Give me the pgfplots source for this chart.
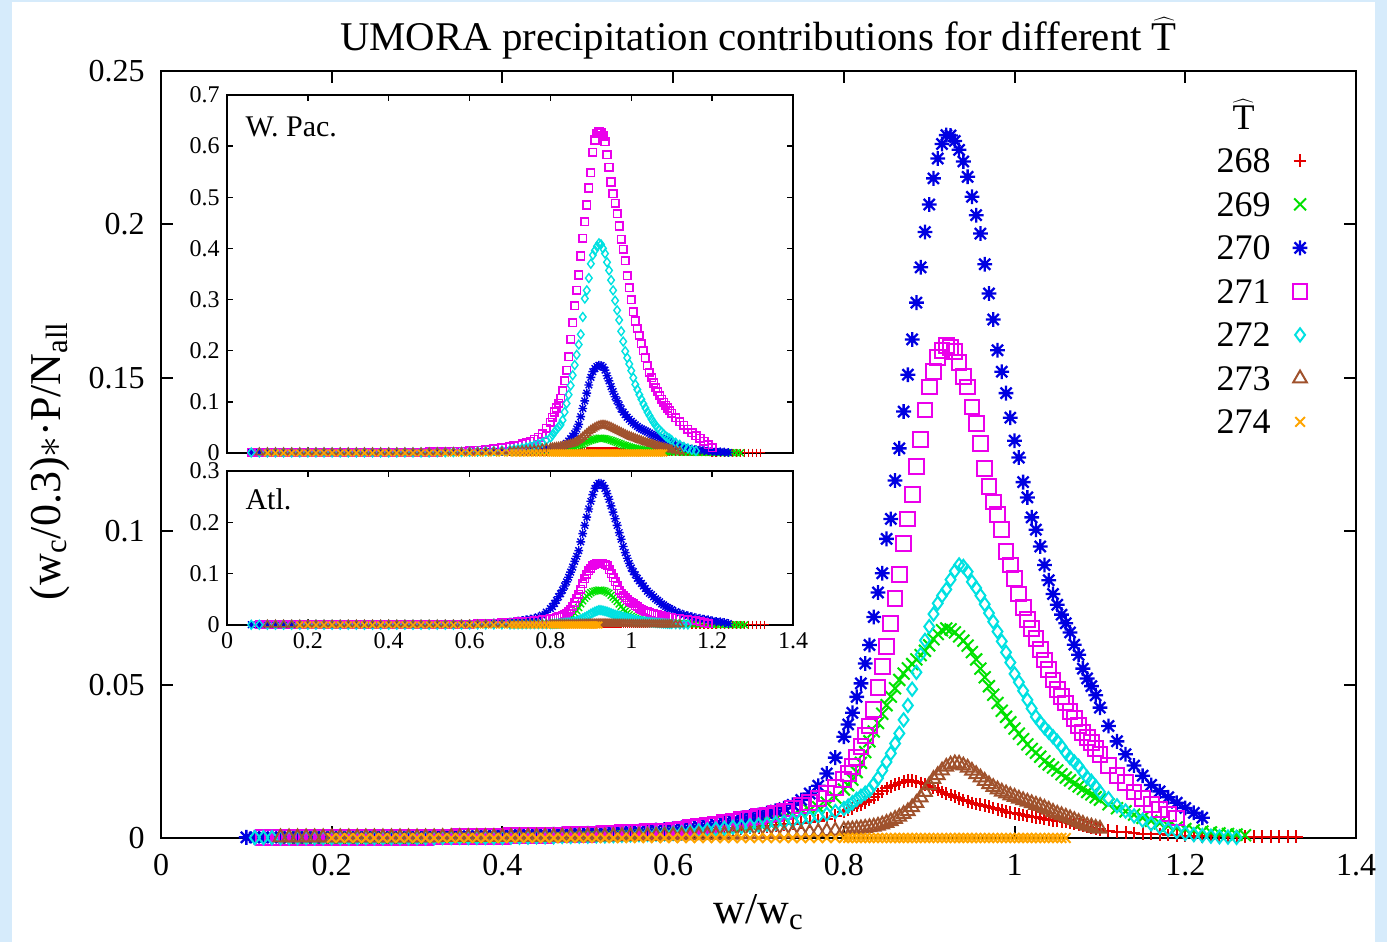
\documentclass[border=0pt]{standalone}
\usepackage{fontspec}
\setmainfont{Liberation Serif}
\usepackage{pgfplots}
\usepackage{pgfplotstable}
\pgfplotsset{compat=1.18}
\definecolor{c268}{RGB}{228,0,0}
\definecolor{c269}{RGB}{0,225,0}
\definecolor{c270}{RGB}{0,0,225}
\definecolor{c271}{RGB}{235,0,235}
\definecolor{c272}{RGB}{0,225,225}
\definecolor{c273}{RGB}{160,82,45}
\definecolor{c274}{RGB}{255,165,0}
\definecolor{bgblue}{RGB}{214,235,251}
\pgfdeclareplotmark{gpstar}{%
  \pgfpathmoveto{\pgfqpoint{-\pgfplotmarksize}{0pt}}\pgfpathlineto{\pgfqpoint{\pgfplotmarksize}{0pt}}%
  \pgfpathmoveto{\pgfqpoint{0pt}{-\pgfplotmarksize}}\pgfpathlineto{\pgfqpoint{0pt}{\pgfplotmarksize}}%
  \pgfpathmoveto{\pgfqpoint{-.75\pgfplotmarksize}{-.75\pgfplotmarksize}}\pgfpathlineto{\pgfqpoint{.75\pgfplotmarksize}{.75\pgfplotmarksize}}%
  \pgfpathmoveto{\pgfqpoint{-.75\pgfplotmarksize}{.75\pgfplotmarksize}}\pgfpathlineto{\pgfqpoint{.75\pgfplotmarksize}{-.75\pgfplotmarksize}}%
  \pgfusepathqstroke}
\pgfplotsset{
  gp/.style={only marks, legend image code/.code={\draw[##1] plot coordinates {(0pt,0pt)};}},
}
% columns: x, T=268 (r), 269 (g), 270 (b), 271 (m), 272 (c), 273 (br), 274 (o)
\pgfplotstableread{
x r g b m c br o
0.10 nan nan 0.0002 nan nan nan nan
0.11 nan nan 0.0002 nan 0.0001 nan nan
0.12 nan nan 0.0002 0.0002 0.0001 nan nan
0.13 nan nan 0.0002 0.0002 0.0001 nan nan
0.14 nan nan 0.0002 0.0002 0.0001 0.0002 nan
0.15 nan 0.0001 0.0002 0.0002 0.0001 0.0002 nan
0.16 nan 0.0001 0.0002 0.0002 0.0001 0.0002 nan
0.17 nan 0.0001 0.0002 0.0002 0.0001 0.0002 nan
0.18 nan 0.0001 0.0002 0.0002 0.0001 0.0002 nan
0.19 nan 0.0001 0.0002 0.0002 0.0001 0.0002 nan
0.20 0.0002 0.0001 0.0002 0.0002 0.0001 0.0002 0
0.21 0.0002 0.0001 0.0002 0.0002 0.0001 0.0002 0
0.22 0.0002 0.0001 0.0002 0.0002 0.0001 0.0002 0
0.23 0.0002 0.0001 0.0002 0.0002 0.0001 0.0002 0
0.24 0.0002 0.0001 0.0002 0.0002 0.0001 0.0002 0
0.25 0.0002 0.0001 0.0002 0.0002 0.0001 0.0002 0
0.26 0.0002 0.0001 0.0002 0.0002 0.0001 0.0002 0
0.27 0.0002 0.0001 0.0002 0.0002 0.0001 0.0002 0
0.28 0.0002 0.0001 0.0002 0.0002 0.0001 0.0002 0
0.29 0.0002 0.0001 0.0002 0.0002 0.0001 0.0002 0
0.30 0.0002 0.0001 0.0003 0.0002 0.0001 0.0002 0
0.31 0.0002 0.0001 0.0003 0.0002 0.0001 0.0002 0
0.32 0.0002 0.0001 0.0003 0.0003 0.0001 0.0002 0
0.33 0.0003 0.0002 0.0004 0.0003 0.0002 0.0003 0
0.34 0.0003 0.0002 0.0004 0.0003 0.0002 0.0003 0
0.35 0.0003 0.0002 0.0005 0.0004 0.0002 0.0003 0
0.36 0.0003 0.0002 0.0005 0.0004 0.0002 0.0003 0
0.37 0.0003 0.0002 0.0006 0.0005 0.0002 0.0003 0
0.38 0.0003 0.0003 0.0007 0.0005 0.0002 0.0003 0
0.39 0.0003 0.0003 0.0007 0.0006 0.0002 0.0003 0
0.40 0.0003 0.0003 0.0008 0.0006 0.0002 0.0003 0
0.41 0.0003 0.0003 0.0009 0.0007 0.0003 0.0003 0
0.42 0.0004 0.0003 0.0009 0.0007 0.0003 0.0004 0
0.43 0.0004 0.0004 0.0010 0.0008 0.0003 0.0004 0
0.44 0.0004 0.0004 0.0010 0.0008 0.0004 0.0004 0
0.45 0.0004 0.0004 0.0011 0.0009 0.0004 0.0004 0
0.46 0.0005 0.0004 0.0012 0.0010 0.0004 0.0004 0
0.47 0.0005 0.0004 0.0013 0.0010 0.0005 0.0004 0
0.48 0.0005 0.0005 0.0013 0.0011 0.0005 0.0005 0
0.49 0.0006 0.0005 0.0014 0.0011 0.0006 0.0005 0
0.50 0.0006 0.0005 0.0015 0.0012 0.0006 0.0005 0
0.51 0.0007 0.0006 0.0016 0.0013 0.0007 0.0005 0
0.52 0.0007 0.0007 0.0017 0.0014 0.0007 0.0005 0
0.53 0.0008 0.0007 0.0018 0.0015 0.0008 0.0006 0
0.54 0.0009 0.0008 0.0019 0.0017 0.0009 0.0006 0
0.55 0.0010 0.0009 0.0020 0.0018 0.0010 0.0006 0
0.56 0.0011 0.0010 0.0022 0.0019 0.0011 0.0007 0
0.57 0.0012 0.0011 0.0024 0.0020 0.0012 0.0007 0
0.58 0.0013 0.0012 0.0026 0.0022 0.0013 0.0007 0
0.59 0.0014 0.0013 0.0028 0.0023 0.0014 0.0008 0
0.60 0.0015 0.0015 0.0030 0.0025 0.0015 0.0008 0
0.61 0.0017 0.0018 0.0033 0.0029 0.0017 0.0008 0
0.62 0.0019 0.0021 0.0036 0.0033 0.0020 0.0009 0
0.63 0.0021 0.0024 0.0039 0.0037 0.0023 0.0009 0
0.64 0.0023 0.0027 0.0042 0.0041 0.0026 0.0010 0
0.65 0.0025 0.0030 0.0045 0.0045 0.0029 0.0010 0
0.66 0.0027 0.0034 0.0050 0.0050 0.0032 0.0011 0
0.67 0.0029 0.0038 0.0057 0.0055 0.0035 0.0011 0
0.68 0.0031 0.0042 0.0065 0.0060 0.0037 0.0012 0
0.69 0.0033 0.0046 0.0070 0.0065 0.0040 0.0012 0
0.70 0.0035 0.0050 0.0075 0.0070 0.0042 0.0013 0
0.71 0.0038 0.0055 0.0081 0.0075 0.0045 0.0014 0
0.72 0.0041 0.0060 0.0089 0.0080 0.0048 0.0014 0
0.73 0.0044 0.0066 0.0097 0.0087 0.0052 0.0015 0
0.74 0.0047 0.0072 0.0108 0.0095 0.0056 0.0016 0
0.75 0.0050 0.0080 0.0124 0.0105 0.0061 0.0017 0
0.76 0.0053 0.0090 0.0145 0.0116 0.0066 0.0018 0
0.77 0.0057 0.0100 0.0170 0.0128 0.0071 0.0020 0
0.78 0.0063 0.0115 0.0210 0.0145 0.0078 0.0022 0
0.79 0.0073 0.0132 0.0262 0.0165 0.0086 0.0024 0
0.80 0.0085 0.0158 0.0330 0.0190 0.0096 0.0026 0
0.805 0.0091 0.0172 0.0370 0.0210 0.0104 0.0027 0
0.81 0.0097 0.0190 0.0408 0.0232 0.0115 0.0028 0
0.815 0.0104 0.0215 0.0460 0.0262 0.0126 0.0030 0
0.82 0.0110 0.0245 0.0504 0.0297 0.0136 0.0031 0
0.825 0.0117 0.0280 0.0569 0.0335 0.0146 0.0033 0
0.83 0.0124 0.0315 0.0629 0.0365 0.0156 0.0035 0
0.835 0.0133 0.0347 0.0720 0.0420 0.0175 0.0037 0
0.84 0.0142 0.0375 0.0800 0.0490 0.0195 0.0040 0
0.845 0.0152 0.0405 0.0863 0.0560 0.0220 0.0044 0
0.85 0.0162 0.0433 0.0975 0.0625 0.0248 0.0049 0
0.855 0.0169 0.0461 0.1040 0.0700 0.0276 0.0055 0
0.86 0.0174 0.0488 0.1165 0.0780 0.0308 0.0062 0
0.865 0.0178 0.0515 0.1270 0.0860 0.0341 0.0069 0
0.87 0.0183 0.0536 0.1390 0.0960 0.0385 0.0078 0
0.875 0.0188 0.0553 0.1510 0.1040 0.0432 0.0087 0
0.88 0.0187 0.0567 0.1625 0.1120 0.0485 0.0100 0
0.885 0.0183 0.0582 0.1745 0.1210 0.0540 0.0114 0
0.89 0.0179 0.0596 0.1860 0.1300 0.0598 0.0132 0
0.895 0.0175 0.0610 0.1975 0.1395 0.0644 0.0150 0
0.90 0.0170 0.0628 0.2065 0.1470 0.0689 0.0172 0
0.905 0.0163 0.0648 0.2150 0.1520 0.0730 0.0192 0
0.91 0.0157 0.0665 0.2215 0.1565 0.0765 0.0205 0
0.915 0.0150 0.0677 0.2262 0.1590 0.0790 0.0220 0
0.92 0.0145 0.0683 0.2291 0.1605 0.0810 0.0232 0
0.925 0.0140 0.0680 0.2290 0.1600 0.0842 0.0239 0
0.93 0.0134 0.0670 0.2272 0.1585 0.0870 0.0243 0
0.935 0.0129 0.0657 0.2243 0.1550 0.0890 0.0242 0
0.94 0.0124 0.0643 0.2205 0.1505 0.0885 0.0236 0
0.945 0.0119 0.0627 0.2155 0.1470 0.0868 0.0229 0
0.95 0.0114 0.0606 0.2090 0.1405 0.0835 0.0219 0
0.955 0.0111 0.0582 0.2030 0.1350 0.0815 0.0208 0
0.96 0.0108 0.0552 0.1970 0.1285 0.0790 0.0197 0
0.965 0.0105 0.0524 0.1870 0.1205 0.0762 0.0186 0
0.97 0.0102 0.0495 0.1775 0.1145 0.0733 0.0175 0
0.975 0.0098 0.0467 0.1690 0.1095 0.0705 0.0166 0
0.98 0.0094 0.0440 0.1590 0.1055 0.0673 0.0158 0
0.985 0.0090 0.0415 0.1520 0.1005 0.0641 0.0151 0
0.99 0.0086 0.0395 0.1450 0.0935 0.0605 0.0145 0
0.995 0.0083 0.0377 0.1370 0.0890 0.0572 0.0139 0
1.00 0.0080 0.0357 0.1295 0.0845 0.0535 0.0134 0
1.005 0.0077 0.0340 0.1240 0.0795 0.0508 0.0128 0
1.01 0.0075 0.0322 0.1160 0.0750 0.0480 0.0123 0
1.015 0.0072 0.0305 0.1110 0.0713 0.0450 0.0118 0
1.02 0.0069 0.0290 0.1045 0.0683 0.0422 0.0113 0
1.025 0.0067 0.0278 0.1005 0.0650 0.0395 0.0108 0
1.03 0.0065 0.0265 0.0950 0.0615 0.0377 0.0104 0
1.035 0.0062 0.0250 0.0890 0.0580 0.0360 0.0098 0
1.04 0.0060 0.0240 0.0840 0.0550 0.0345 0.0092 0
1.045 0.0058 0.0230 0.0795 0.0515 0.0330 0.0085 0
1.05 0.0056 0.0220 0.0760 0.0485 0.0315 0.0079 0
1.055 0.0054 0.0208 0.0728 0.0462 0.0298 0.0074 0
1.06 0.0052 0.0197 0.0700 0.0440 0.0278 0.0069 0
1.065 0.0050 0.0188 0.0670 0.0413 0.0262 0.0064 nan
1.07 0.0047 0.0178 0.0630 0.0390 0.0248 0.0058 nan
1.075 0.0043 0.0168 0.0597 0.0366 0.0234 0.0052 nan
1.08 0.0040 0.0160 0.0552 0.0345 0.0215 0.0046 nan
1.085 0.0036 0.0150 0.0520 0.0327 0.0197 0.0040 nan
1.09 0.0033 0.0142 0.0495 0.0310 0.0185 0.0037 nan
1.095 0.0030 0.0133 0.0465 0.0292 0.0168 0.0033 nan
1.10 0.0028 0.0125 0.0425 0.0272 0.0150 0.0030 nan
1.11 0.0024 0.0110 0.0365 0.0236 0.0128 nan nan
1.12 0.0021 0.0097 0.0315 0.0205 0.0105 nan nan
1.13 0.0018 0.0087 0.0273 0.0180 0.0088 nan nan
1.14 0.0016 0.0076 0.0236 0.0150 0.0072 nan nan
1.15 0.0014 0.0066 0.0203 0.0128 0.0058 nan nan
1.16 0.0013 0.0056 0.0173 0.0110 0.0046 nan nan
1.17 0.0012 0.0048 0.0152 0.0094 0.0036 nan nan
1.18 0.0010 0.0040 0.0133 0.0078 0.0028 nan nan
1.19 0.0009 0.0034 0.0115 0.0065 0.0021 nan nan
1.20 0.0008 0.0029 0.0098 nan 0.0015 nan nan
1.21 0.0007 0.0025 0.0082 nan 0.0011 nan nan
1.22 0.0006 0.0021 0.0066 nan 0.0008 nan nan
1.23 0.0005 0.0018 nan nan 0.0006 nan nan
1.24 0.0005 0.0015 nan nan 0.0004 nan nan
1.25 0.0004 0.0013 nan nan 0.0003 nan nan
1.26 0.0004 0.0011 nan nan 0.0002 nan nan
1.27 0.0004 0.0009 nan nan nan nan nan
1.28 0.0004 nan nan nan nan nan nan
1.29 0.0004 nan nan nan nan nan nan
1.30 0.0004 nan nan nan nan nan nan
1.31 0.0004 nan nan nan nan nan nan
1.32 0.0004 nan nan nan nan nan nan
1.33 0.0004 nan nan nan nan nan nan
}\mainT
\pgfplotstableread{
x r g b m c br o
0.06 nan nan 0.001 0.001 0.001 nan nan
0.08 nan nan 0.001 0.001 0.001 0.001 nan
0.10 nan 0.0005 0.001 0.001 0.001 0.001 0
0.12 nan 0.0005 0.001 0.001 0.001 0.001 0
0.14 0.0005 0.0005 0.001 0.001 0.001 0.001 0
0.16 0.0005 0.0005 0.001 0.001 0.001 0.001 0
0.18 0.0005 0.0005 0.001 0.001 0.001 0.001 0
0.20 0.0005 0.0005 0.001 0.001 0.001 0.001 0
0.22 0.0005 0.0005 0.001 0.001 0.001 0.001 0
0.24 0.0005 0.0005 0.001 0.001 0.001 0.001 0
0.26 0.0005 0.0005 0.001 0.001 0.001 0.001 0
0.28 0.0005 0.0005 0.001 0.001 0.001 0.001 0
0.30 0.0005 0.0005 0.001 0.001 0.001 0.001 0
0.32 0.0005 0.0005 0.001 0.001 0.001 0.001 0
0.34 0.0005 0.0005 0.001 0.001 0.001 0.001 0
0.36 0.0005 0.0005 0.001 0.001 0.001 0.001 0
0.38 0.0005 0.0005 0.001 0.001 0.001 0.001 0
0.40 0.0005 0.0005 0.001 0.001 0.001 0.001 0
0.42 0.0005 0.0005 0.001 0.001 0.001 0.001 0
0.44 0.0005 0.0005 0.001 0.001 0.001 0.001 0
0.46 0.0005 0.0005 0.001 0.0012 0.001 0.001 0
0.48 0.0005 0.0005 0.001 0.0015 0.001 0.001 0
0.50 0.0005 0.0005 0.001 0.0018 0.001 0.001 0
0.52 0.0005 0.0005 0.0015 0.002 0.0015 0.0012 0
0.54 0.0005 0.0005 0.0015 0.0025 0.0015 0.0013 0
0.56 0.0006 0.0006 0.0018 0.003 0.0018 0.0014 0
0.58 0.0007 0.0007 0.002 0.0035 0.002 0.0015 0
0.60 0.0008 0.0008 0.002 0.004 0.0025 0.0016 0
0.62 0.0009 0.0009 0.0025 0.005 0.003 0.0018 0
0.64 0.001 0.001 0.0028 0.006 0.0035 0.002 0
0.66 0.001 0.001 0.003 0.008 0.004 0.0025 0
0.68 0.0012 0.0012 0.0035 0.010 0.005 0.003 0
0.70 0.0013 0.0013 0.004 0.012 0.006 0.0035 0
0.71 0.0014 0.0014 0.004 0.0135 0.007 0.004 0
0.72 0.0015 0.0015 0.0045 0.015 0.008 0.0045 0
0.73 0.0016 0.0016 0.0047 0.0175 0.0095 0.005 0
0.74 0.0017 0.0017 0.005 0.020 0.011 0.0055 0
0.75 0.0018 0.0018 0.0055 0.023 0.013 0.006 0
0.76 0.0019 0.0019 0.006 0.027 0.015 0.0065 0
0.77 0.002 0.002 0.0065 0.031 0.0175 0.007 0
0.78 0.0022 0.0021 0.007 0.037 0.020 0.009 0
0.79 0.0024 0.0022 0.0075 0.048 0.025 0.0095 0
0.80 0.0026 0.0025 0.008 0.060 0.030 0.010 0
0.805 0.0027 0.0030 0.0080 0.070 0.035 0.0105 0
0.81 0.0028 0.0035 0.0085 0.080 0.041 0.0110 0
0.815 0.0029 0.0040 0.0088 0.088 0.046 0.0115 0
0.82 0.0030 0.0045 0.0090 0.097 0.051 0.0120 0
0.825 0.0031 0.0050 0.0095 0.107 0.055 0.0125 0
0.83 0.0032 0.0058 0.0120 0.122 0.064 0.0135 0
0.835 0.0033 0.0065 0.0155 0.141 0.080 0.0145 0
0.84 0.0034 0.0070 0.0190 0.162 0.097 0.0155 0
0.845 0.0035 0.0075 0.0235 0.188 0.114 0.0165 0
0.85 0.0035 0.0080 0.0280 0.222 0.132 0.0175 0
0.855 0.0036 0.0095 0.0330 0.255 0.152 0.0185 0
0.86 0.0037 0.0110 0.0380 0.288 0.172 0.0200 0
0.865 0.0038 0.0130 0.0470 0.318 0.192 0.0225 0
0.87 0.0039 0.0150 0.0560 0.348 0.212 0.0250 0
0.875 0.0040 0.0165 0.0710 0.385 0.232 0.0280 0
0.88 0.0040 0.0180 0.0870 0.420 0.266 0.0315 0
0.885 0.0040 0.0200 0.1020 0.452 0.302 0.0350 0
0.89 0.0040 0.0220 0.1170 0.485 0.318 0.0385 0
0.895 0.0039 0.0235 0.1330 0.518 0.342 0.0420 0
0.90 0.0038 0.0250 0.1480 0.548 0.370 0.0450 0
0.905 0.0038 0.0260 0.1590 0.588 0.387 0.0475 0
0.91 0.0037 0.0270 0.1650 0.612 0.396 0.0500 0
0.915 0.0036 0.0280 0.1690 0.625 0.404 0.0520 0
0.92 0.0035 0.0290 0.1715 0.628 0.410 0.0535 0
0.925 0.0035 0.0290 0.1710 0.627 0.408 0.0545 0
0.93 0.0034 0.0285 0.1680 0.620 0.400 0.0548 0
0.935 0.0034 0.0280 0.1620 0.609 0.390 0.0545 0
0.94 0.0033 0.0270 0.1510 0.583 0.373 0.0535 0
0.945 0.0033 0.0260 0.1410 0.559 0.357 0.0520 0
0.95 0.0032 0.0250 0.1300 0.530 0.338 0.0505 0
0.955 0.0031 0.0235 0.1200 0.507 0.318 0.0485 0
0.96 0.0030 0.0220 0.1100 0.488 0.298 0.0465 0
0.965 0.0030 0.0205 0.1020 0.468 0.279 0.0445 0
0.97 0.0029 0.0190 0.0940 0.444 0.260 0.0425 0
0.975 0.0028 0.0175 0.0860 0.418 0.238 0.0405 0
0.98 0.0028 0.0160 0.0800 0.398 0.218 0.0385 0
0.985 0.0027 0.0147 0.0750 0.376 0.199 0.0365 0
0.99 0.0026 0.0135 0.0700 0.347 0.186 0.0345 0
0.995 0.0026 0.0122 0.0660 0.323 0.174 0.0330 0
1.00 0.0025 0.0110 0.0620 0.300 0.161 0.0315 0
1.005 0.0025 0.0100 0.0585 0.276 0.147 0.0300 0
1.01 0.0024 0.0092 0.0550 0.258 0.134 0.0285 0
1.015 0.0024 0.0085 0.0520 0.244 0.124 0.0270 0
1.02 0.0023 0.0078 0.0490 0.230 0.114 0.0255 0
1.025 0.0023 0.0070 0.0470 0.214 0.105 0.0240 0
1.03 0.0022 0.0060 0.0450 0.200 0.096 0.0225 0
1.035 0.0022 0.0057 0.0430 0.186 0.088 0.0212 0
1.04 0.0021 0.0053 0.0410 0.171 0.080 0.0200 0
1.045 0.0021 0.0050 0.0390 0.158 0.073 0.0188 0
1.05 0.0020 0.0047 0.0365 0.147 0.066 0.0176 0
1.055 0.0020 0.0043 0.0345 0.137 0.060 0.0165 0
1.06 0.0019 0.0040 0.0330 0.128 0.054 0.0150 0
1.065 0.0019 0.0037 0.0315 0.120 0.049 0.0138 0
1.07 0.0018 0.0035 0.0300 0.112 0.045 0.0125 0
1.075 0.0018 0.0032 0.0285 0.105 0.041 0.0113 0
1.08 0.0017 0.0030 0.0272 0.099 0.037 0.0102 0
1.085 0.0017 0.0027 0.0260 0.093 0.033 0.0092 nan
1.09 0.0016 0.0025 0.0245 0.088 0.030 0.0082 nan
1.095 0.0016 0.0022 0.0225 0.083 0.028 0.0072 nan
1.10 0.0015 0.0020 0.0205 0.078 0.025 0.0063 nan
1.11 0.0015 0.0018 0.0165 0.069 0.020 0.0045 nan
1.12 0.0014 0.0016 0.0135 0.061 0.016 0.0030 nan
1.13 0.0013 0.0015 0.0105 0.054 0.012 nan nan
1.14 0.0013 0.0014 0.0088 0.046 0.009 nan nan
1.15 0.0012 0.0013 0.0078 0.040 0.006 nan nan
1.16 0.0012 0.0012 0.0068 0.034 0.004 nan nan
1.17 0.0011 0.0011 0.0060 0.029 nan nan nan
1.18 0.0010 0.0010 0.0050 0.023 nan nan nan
1.19 0.0010 0.0009 0.0042 0.016 nan nan nan
1.20 0.0009 0.0008 0.0035 0.010 nan nan nan
1.21 0.0009 0.0007 0.0030 nan nan nan nan
1.22 0.0008 0.0006 0.0025 nan nan nan nan
1.23 0.0008 0.0005 0.0018 nan nan nan nan
1.24 0.0007 0.0004 0.0010 nan nan nan nan
1.25 0.0007 0.0004 nan nan nan nan nan
1.26 0.0006 0.0003 nan nan nan nan nan
1.27 0.0006 0.0003 nan nan nan nan nan
1.28 0.0005 nan nan nan nan nan nan
1.29 0.0005 nan nan nan nan nan nan
1.30 0.0005 nan nan nan nan nan nan
1.31 0.0005 nan nan nan nan nan nan
1.32 0.0005 nan nan nan nan nan nan
}\wpacT
\pgfplotstableread{
x r g b m c br o
0.06 nan nan 0.0005 nan 0.0005 nan nan
0.08 nan nan 0.0005 0.0005 0.0005 nan nan
0.10 nan nan 0.0005 0.0005 0.0005 0.0005 nan
0.12 nan 0.0005 0.0005 0.0005 0.0005 0.0005 nan
0.14 0.0005 0.0005 0.0005 0.0005 0.0005 0.0005 nan
0.16 0.0005 0.0005 0.0005 0.0005 0.0005 0.0005 nan
0.18 0.0005 0.0005 0.0005 0.0005 0.0005 0.0005 0
0.20 0.0005 0.0005 0.0005 0.0005 0.0005 0.0005 0
0.22 0.0005 0.0005 0.0005 0.0005 0.0005 0.0005 0
0.24 0.0005 0.0005 0.0005 0.0005 0.0005 0.0005 0
0.26 0.0005 0.0005 0.0005 0.0005 0.0005 0.0005 0
0.28 0.0005 0.0005 0.0005 0.0005 0.0005 0.0005 0
0.30 0.0005 0.0005 0.0005 0.0005 0.0005 0.0005 0
0.32 0.0005 0.0005 0.0005 0.0005 0.0005 0.0005 0
0.34 0.0005 0.0005 0.0005 0.0005 0.0005 0.0005 0
0.36 0.0005 0.0005 0.0005 0.0005 0.0005 0.0005 0
0.38 0.0005 0.0005 0.0005 0.0005 0.0005 0.0005 0
0.40 0.0005 0.0005 0.0006 0.0005 0.0005 0.0005 0
0.42 0.0005 0.0005 0.0006 0.0005 0.0005 0.0005 0
0.44 0.0005 0.0005 0.0007 0.0005 0.0005 0.0005 0
0.46 0.0005 0.0005 0.0007 0.0006 0.0005 0.0005 0
0.48 0.0005 0.0005 0.0008 0.0006 0.0005 0.0005 0
0.50 0.0005 0.0005 0.0008 0.0006 0.0005 0.0005 0
0.52 0.0005 0.0005 0.0010 0.0008 0.0005 0.0005 0
0.54 0.0005 0.0005 0.0012 0.0010 0.0005 0.0005 0
0.56 0.0006 0.0006 0.0015 0.0012 0.0006 0.0005 0
0.58 0.0007 0.0007 0.0018 0.0015 0.0007 0.0006 0
0.60 0.0008 0.0008 0.0020 0.0018 0.0008 0.0006 0
0.62 0.0008 0.0008 0.0025 0.0020 0.0009 0.0007 0
0.64 0.0009 0.0009 0.0030 0.0025 0.0010 0.0007 0
0.66 0.0009 0.0009 0.0040 0.0030 0.0010 0.0008 0
0.68 0.0010 0.0010 0.0050 0.0040 0.0011 0.0008 0
0.70 0.0010 0.0010 0.0060 0.0050 0.0012 0.0009 0
0.71 0.0010 0.0010 0.0068 0.0055 0.0013 0.0009 0
0.72 0.0010 0.0010 0.0075 0.0060 0.0014 0.0010 0
0.73 0.0010 0.0011 0.0087 0.0065 0.0015 0.0010 0
0.74 0.0010 0.0012 0.0100 0.0070 0.0016 0.0010 0
0.75 0.0010 0.0013 0.0115 0.0075 0.0017 0.0010 0
0.76 0.0010 0.0014 0.0130 0.0080 0.0018 0.0011 0
0.77 0.0010 0.0015 0.0155 0.0090 0.0019 0.0011 0
0.78 0.0010 0.0017 0.0190 0.0100 0.0020 0.0012 0
0.79 0.0010 0.0019 0.0250 0.0110 0.0020 0.0012 0
0.80 0.0010 0.0020 0.0320 0.0120 0.0020 0.0013 0
0.805 0.0010 0.0025 0.036 0.0125 0.0022 0.0013 0
0.81 0.0010 0.0030 0.042 0.0135 0.0025 0.0013 0
0.815 0.0010 0.0035 0.048 0.0145 0.0028 0.0014 0
0.82 0.0010 0.0040 0.055 0.0160 0.0030 0.0014 0
0.825 0.0010 0.0045 0.061 0.0170 0.0033 0.0015 0
0.83 0.0010 0.0050 0.068 0.0190 0.0036 0.0015 0
0.835 0.0010 0.0060 0.076 0.0210 0.0040 0.0016 0
0.84 0.0010 0.0065 0.084 0.0230 0.0043 0.0016 0
0.845 0.0010 0.0100 0.093 0.0270 0.0047 0.0017 0
0.85 0.0010 0.0140 0.103 0.0310 0.0050 0.0017 0
0.855 0.0010 0.0180 0.113 0.0370 0.0060 0.0018 0
0.86 0.0010 0.0230 0.124 0.0440 0.0070 0.0018 0
0.865 0.0010 0.0280 0.134 0.0520 0.0080 0.0019 0
0.87 0.0010 0.0340 0.145 0.0600 0.0090 0.0020 0
0.875 0.0010 0.0410 0.162 0.0700 0.0110 0.0021 0
0.88 0.0010 0.0470 0.178 0.0800 0.0130 0.0022 0
0.885 0.0010 0.0520 0.194 0.0900 0.0150 0.0023 0
0.89 0.0010 0.0560 0.210 0.0990 0.0170 0.0024 0
0.895 0.0010 0.0600 0.226 0.1060 0.0195 0.0025 0
0.90 0.0010 0.0630 0.241 0.1110 0.0220 0.0026 0
0.905 0.0010 0.0650 0.254 0.1150 0.0240 0.0027 0
0.91 0.0010 0.0660 0.266 0.1180 0.0260 0.0028 0
0.915 0.0010 0.0670 0.272 0.1200 0.0275 0.0029 0
0.92 0.0010 0.0680 0.276 0.1200 0.0290 0.0030 0
0.925 0.0010 0.0680 0.276 0.1200 0.0288 0.0030 nan
0.93 0.0010 0.0670 0.272 0.1190 0.0280 0.0030 nan
0.935 0.0010 0.0660 0.266 0.1180 0.0270 0.0030 nan
0.94 0.0010 0.0640 0.256 0.1150 0.0260 0.0029 nan
0.945 0.0010 0.0620 0.245 0.1080 0.0245 0.0028 nan
0.95 0.0010 0.0580 0.232 0.1000 0.0230 0.0027 nan
0.955 0.0010 0.0540 0.220 0.0920 0.0215 0.0026 nan
0.96 0.0010 0.0500 0.207 0.0840 0.0200 0.0025 nan
0.965 0.0010 0.0460 0.194 0.0760 0.0190 0.0024 nan
0.97 0.0010 0.0410 0.180 0.0680 0.0180 0.0023 nan
0.975 0.0010 0.0360 0.167 0.0620 0.0170 0.0022 nan
0.98 0.0010 0.0310 0.153 0.0570 0.0160 0.0021 nan
0.985 0.0010 0.0270 0.141 0.0530 0.0150 0.0020 nan
0.99 0.0010 0.0230 0.130 0.0490 0.0140 0.0019 nan
0.995 0.0010 0.0200 0.120 0.0460 0.0130 0.0018 nan
1.00 0.0010 0.0170 0.111 0.0430 0.0120 0.0018 nan
1.005 0.0010 0.0150 0.104 0.0410 0.0110 0.0017 nan
1.01 0.0010 0.0130 0.098 0.0380 0.0100 0.0017 nan
1.015 0.0010 0.0110 0.091 0.0360 0.0090 0.0016 nan
1.02 0.0010 0.0097 0.086 0.0330 0.0080 0.0016 nan
1.025 0.0010 0.0090 0.081 0.0310 0.0075 0.0015 nan
1.03 0.0010 0.0080 0.076 0.0290 0.0070 0.0015 nan
1.035 0.0010 0.0075 0.071 0.0270 0.0065 0.0015 nan
1.04 0.0010 0.0070 0.066 0.0260 0.0060 0.0014 nan
1.045 0.0010 0.0065 0.062 0.0240 0.0055 0.0014 nan
1.05 0.0010 0.0060 0.059 0.0230 0.0050 0.0014 nan
1.055 0.0010 0.0057 0.055 0.0220 0.0047 0.0013 nan
1.06 0.0010 0.0053 0.051 0.0210 0.0043 0.0013 nan
1.065 0.0010 0.0050 0.048 0.0200 0.0040 0.0013 nan
1.07 0.0010 0.0047 0.045 0.0190 0.0037 0.0012 nan
1.075 0.0010 0.0045 0.041 0.0180 0.0033 0.0012 nan
1.08 0.0010 0.0043 0.039 0.0170 0.0030 0.0012 nan
1.085 0.0010 0.0041 0.036 0.0160 0.0027 0.0012 nan
1.09 0.0010 0.0040 0.034 0.0155 0.0024 0.0011 nan
1.095 0.0009 0.0038 0.032 0.0150 0.0022 0.0011 nan
1.10 0.0009 0.0037 0.030 0.0145 0.0020 0.0011 nan
1.11 0.0009 0.0035 0.026 0.0135 0.0017 0.0011 nan
1.12 0.0008 0.0030 0.023 0.0125 0.0014 0.0010 nan
1.13 0.0008 0.0028 0.020 0.0115 0.0012 nan nan
1.14 0.0008 0.0025 0.018 0.0100 0.0010 nan nan
1.15 0.0007 0.0023 0.016 0.0090 nan nan nan
1.16 0.0007 0.0020 0.014 0.0080 nan nan nan
1.17 0.0007 0.0018 0.013 0.0060 nan nan nan
1.18 0.0006 0.0016 0.011 0.0040 nan nan nan
1.19 0.0006 0.0014 0.010 0.0020 nan nan nan
1.20 0.0006 0.0012 0.008 nan nan nan nan
1.21 0.0005 0.0010 0.007 nan nan nan nan
1.22 0.0005 0.0009 0.0065 nan nan nan nan
1.23 0.0005 0.0008 0.005 nan nan nan nan
1.24 0.0005 0.0007 0.003 nan nan nan nan
1.25 0.0005 0.0006 nan nan nan nan nan
1.26 0.0005 0.0005 nan nan nan nan nan
1.27 0.0005 0.0004 nan nan nan nan nan
1.28 0.0005 0.0003 nan nan nan nan nan
1.29 0.0005 nan nan nan nan nan nan
1.30 0.0005 nan nan nan nan nan nan
1.31 0.0005 nan nan nan nan nan nan
1.32 0.0005 nan nan nan nan nan nan
1.33 0.0005 nan nan nan nan nan nan
}\atlT
\begin{document}
\begin{tikzpicture}
\fill[bgblue] (0,0) rectangle (693.5pt,471pt);
\fill[white] (6pt,0) rectangle (687.5pt,470pt);
% ---------------- main axis ----------------
\begin{axis}[
  at={(80.5pt,52pt)}, anchor=south west, scale only axis,
  width=597.5pt, height=383.5pt,
  xmin=0, xmax=1.4, ymin=0, ymax=0.25,
  clip=false,
  axis line style={line width=1pt}, every tick/.style={line width=1pt, black},
  major tick length=6pt,
  xtick={0,0.2,0.4,0.6,0.8,1,1.2,1.4},
  xticklabels={0,0.2,0.4,0.6,0.8,1,1.2,1.4},
  ytick={0,0.05,0.1,0.15,0.2,0.25},
  yticklabels={0,0.05,0.1,0.15,0.2,0.25},
  tick label style={font=\fontsize{16}{18}\selectfont},
  xticklabel style={anchor=north, inner sep=0pt, yshift=-8pt},
  yticklabel style={anchor=east, inner sep=0pt, xshift=-8pt},
  title={UMORA precipitation contributions for different $\widehat{\hbox{T}}$},
  title style={at={(axis description cs:0.5,1.027)}, anchor=center, font=\fontsize{20.4}{22}\selectfont},
  xlabel={w/w\textsubscript{c}},
  xlabel style={at={(axis description cs:0.5,-0.0965)}, anchor=center, font=\fontsize{22}{24}\selectfont},
  ylabel={(w\textsubscript{c}/0.3)$\ast$·P/N\textsubscript{all}},
  ylabel style={at={(axis description cs:-0.0928,0.4915)}, rotate=0, anchor=center, font=\fontsize{22}{24}\selectfont},
  legend cell align=right, legend plot pos=right,
  legend style={draw=none, fill=none, at={(axis description cs:0.9597,0.9557)}, anchor=north east,
    font=\fontsize{18}{20}\selectfont, row sep=9.75pt, column sep=11pt, inner sep=0pt,
    nodes={inner sep=0pt, text height=12pt, text depth=0pt}},
]
\addlegendimage{empty legend}
\addlegendentry{$\widehat{\hbox{T}}$\kern8pt}
\addplot[gp, color=c268, mark=+, mark size=3.2pt, line width=1pt] table[x=x,y=r]{\mainT};
\addlegendentry{268}
\addplot[gp, color=c269, mark=x, mark size=4.2pt, line width=1pt] table[x=x,y=g]{\mainT};
\addlegendentry{269}
\addplot[gp, color=c270, mark=gpstar, mark size=3.7pt, line width=1.15pt] table[x=x,y=b]{\mainT};
\addlegendentry{270}
\addplot[gp, color=c271, mark=square, mark size=3.7pt, line width=1pt] table[x=x,y=m]{\mainT};
\addlegendentry{271}
\addplot[gp, color=c272, mark=diamond, mark size=3.3pt, line width=1pt] table[x=x,y=c]{\mainT};
\addlegendentry{272}
\addplot[gp, color=c273, mark=triangle, mark size=3.9pt, line width=1pt] table[x=x,y=br]{\mainT};
\addlegendentry{273}
\addplot[gp, color=c274, mark=x, mark size=3.4pt, line width=1pt] table[x=x,y=o]{\mainT};
\addlegendentry{274}
\end{axis}
% ---------------- W. Pac. inset ----------------
\begin{axis}[
  at={(113.5pt,244.5pt)}, anchor=south west, scale only axis,
  width=283pt, height=179pt,
  xmin=0, xmax=1.4, ymin=0, ymax=0.7,
  clip=false, axis background/.style={fill=white},
  axis line style={line width=0.7pt}, every tick/.style={line width=0.7pt, black},
  major tick length=3pt,
  xtick={0,0.2,0.4,0.6,0.8,1,1.2,1.4}, xticklabels={,,,,,,,,},
  ytick={0,0.1,0.2,0.3,0.4,0.5,0.6,0.7},
  yticklabels={0,0.1,0.2,0.3,0.4,0.5,0.6,0.7},
  tick label style={font=\fontsize{12}{14}\selectfont},
  yticklabel style={anchor=east, inner sep=0pt, xshift=-3.5pt},
]
\addplot[gp, color=c268, mark=+, mark size=2pt, line width=0.7pt] table[x=x,y=r]{\wpacT};
\addplot[gp, color=c269, mark=x, mark size=2.4pt, line width=0.7pt] table[x=x,y=g]{\wpacT};
\addplot[gp, color=c270, mark=gpstar, mark size=2.2pt, line width=0.7pt] table[x=x,y=b]{\wpacT};
\addplot[gp, color=c271, mark=square, mark size=1.9pt, line width=0.8pt] table[x=x,y=m]{\wpacT};
\addplot[gp, color=c272, mark=diamond, mark size=2.2pt, line width=0.7pt] table[x=x,y=c]{\wpacT};
\addplot[gp, color=c273, mark=triangle, mark size=2.2pt, line width=0.7pt] table[x=x,y=br]{\wpacT};
\addplot[gp, color=c274, mark=x, mark size=2.4pt, line width=0.8pt] table[x=x,y=o]{\wpacT};
\node[anchor=base west, font=\fontsize{15}{17}\selectfont, inner sep=0pt] at (rel axis cs:0.032,0.885) {W. Pac.};
\end{axis}
% ---------------- Atl. inset ----------------
\begin{axis}[
  at={(113.5pt,158.5pt)}, anchor=south west, scale only axis,
  width=283pt, height=77pt,
  xmin=0, xmax=1.4, ymin=0, ymax=0.3,
  clip=false, axis background/.style={fill=white},
  axis line style={line width=0.7pt}, every tick/.style={line width=0.7pt, black},
  major tick length=3pt,
  xtick={0,0.2,0.4,0.6,0.8,1,1.2,1.4},
  xticklabels={0,0.2,0.4,0.6,0.8,1,1.2,1.4},
  ytick={0,0.1,0.2,0.3},
  yticklabels={0,0.1,0.2,0.3},
  tick label style={font=\fontsize{12}{14}\selectfont},
  xticklabel style={anchor=north, inner sep=0pt, yshift=-3.5pt},
  yticklabel style={anchor=east, inner sep=0pt, xshift=-3.5pt},
]
\addplot[gp, color=c268, mark=+, mark size=2pt, line width=0.7pt] table[x=x,y=r]{\atlT};
\addplot[gp, color=c269, mark=x, mark size=2.4pt, line width=0.7pt] table[x=x,y=g]{\atlT};
\addplot[gp, color=c270, mark=gpstar, mark size=2.2pt, line width=0.7pt] table[x=x,y=b]{\atlT};
\addplot[gp, color=c271, mark=square, mark size=1.9pt, line width=0.7pt] table[x=x,y=m]{\atlT};
\addplot[gp, color=c272, mark=diamond, mark size=2.2pt, line width=0.7pt] table[x=x,y=c]{\atlT};
\addplot[gp, color=c273, mark=triangle, mark size=2.2pt, line width=0.7pt] table[x=x,y=br]{\atlT};
\addplot[gp, color=c274, mark=x, mark size=2.4pt, line width=0.8pt] table[x=x,y=o]{\atlT};
\node[anchor=base west, font=\fontsize{15}{17}\selectfont, inner sep=0pt] at (rel axis cs:0.032,0.747) {Atl.};
\end{axis}
\pgfresetboundingbox
\path[use as bounding box] (0,0) rectangle (693.5pt,471pt);
\end{tikzpicture}
\end{document}
